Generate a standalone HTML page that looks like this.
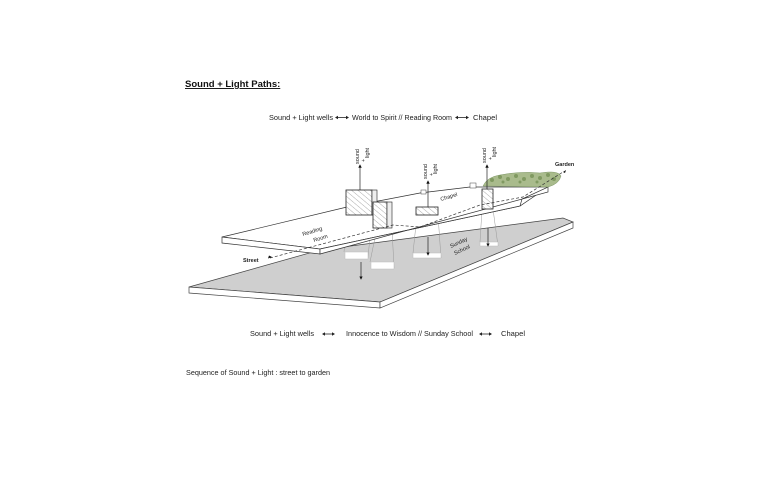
<!DOCTYPE html>
<html><head><meta charset="utf-8"><style>
html,body{margin:0;padding:0;background:#fff;width:780px;height:487px;overflow:hidden}
svg{display:block;font-family:"Liberation Sans",sans-serif}
</style></head><body>
<svg width="780" height="487" viewBox="0 0 780 487" xmlns="http://www.w3.org/2000/svg">
<defs>
<pattern id="h" width="4" height="4" patternUnits="userSpaceOnUse" patternTransform="rotate(-50)">
<rect width="4" height="4" fill="#fff"/><line x1="0" y1="0" x2="0" y2="4" stroke="#888" stroke-width="0.7"/></pattern>
<marker id="a" markerWidth="5" markerHeight="5" refX="2.5" refY="2.5" orient="auto"><path d="M0,0 L5,2.5 L0,5z" fill="#111"/></marker>
</defs>
<text x="185" y="87" font-size="9.5" font-weight="bold" text-decoration="underline" fill="#111">Sound + Light Paths:</text>
<g font-size="7.3" fill="#222">
<text x="269" y="120" textLength="64" lengthAdjust="spacingAndGlyphs">Sound + Light wells</text>
<text x="352" y="120" textLength="100" lengthAdjust="spacingAndGlyphs">World to Spirit // Reading Room</text>
<text x="473" y="120" textLength="24" lengthAdjust="spacingAndGlyphs">Chapel</text>
</g>
<g stroke="#222" stroke-width="0.8"><line x1="336" y1="117.5" x2="348" y2="117.5"/><line x1="456" y1="117.5" x2="468" y2="117.5"/></g>
<g fill="#222"><path d="M335,117.5 l3,-1.8 v3.6z M349,117.5 l-3,-1.8 v3.6z M455,117.5 l3,-1.8 v3.6z M469,117.5 l-3,-1.8 v3.6z"/></g>

<!-- lower slab -->
<polygon points="189,287 320,250 563,218 573,222 380,302" fill="#cfcfcf" stroke="#444" stroke-width="0.7"/>
<polygon points="189,287 380,302 380,308 189,293" fill="#fff" stroke="#444" stroke-width="0.7"/>
<polygon points="380,302 573,222 573,228 380,308" fill="#fff" stroke="#444" stroke-width="0.7"/>

<!-- light well projections -->
<g stroke="#999" stroke-width="0.5" fill="none">
<path d="M347,215 L344,252 M372,215 L368,258 M377,228 L370,262 M392,228 L394,268 M417,215 L413,253 M438,215 L441,258 M482,209 L480,242 M493,209 L498,246"/>
</g>
<g fill="#fff" stroke="#bbb" stroke-width="0.5">
<polygon points="345,252 368,252 368,259 345,259"/><polygon points="371,262 394,262 394,269 371,269"/>
<polygon points="413,253 441,253 441,258 413,258"/><polygon points="480,242 498,242 498,246 480,246"/>
</g>

<!-- upper slab -->
<polygon points="222,237 347,207 420,193 470,187 548,187 520,206 320,249" fill="#fff" stroke="#333" stroke-width="0.7"/>
<polygon points="222,237 320,249 320,254 222,243" fill="#fff" stroke="#333" stroke-width="0.7"/>
<polygon points="320,249 520,206 522,199 548,187 548,192 320,254" fill="#fff" stroke="#333" stroke-width="0.7"/>
<!-- garden -->
<path d="M483,186 Q487,177 500,175 Q520,171 540,173 Q558,170 561,176 Q559,184 548,187 Z" fill="#a9bb8c" stroke="#7f9868" stroke-width="0.5"/>
<g fill="#6f8c50" opacity="0.7">
<circle cx="492" cy="180" r="2"/><circle cx="500" cy="177" r="2"/><circle cx="508" cy="179" r="2"/><circle cx="516" cy="176" r="2"/><circle cx="524" cy="179" r="2"/><circle cx="532" cy="176" r="2"/><circle cx="540" cy="178" r="2"/><circle cx="548" cy="175" r="2"/><circle cx="554" cy="179" r="2"/><circle cx="503" cy="182" r="1.5"/><circle cx="520" cy="182" r="1.5"/><circle cx="537" cy="182" r="1.5"/>
</g>

<!-- boxes -->
<rect x="346" y="190" width="26" height="25" fill="url(#h)" stroke="#222" stroke-width="0.8"/>
<rect x="372" y="190" width="5" height="25" fill="#eee" stroke="#222" stroke-width="0.6"/>
<rect x="373" y="202" width="14" height="26" fill="url(#h)" stroke="#222" stroke-width="0.8"/>
<rect x="387" y="202" width="5" height="26" fill="#eee" stroke="#222" stroke-width="0.6"/>
<rect x="416" y="207" width="22" height="8" fill="url(#h)" stroke="#222" stroke-width="0.8"/>
<rect x="482" y="189" width="11" height="20" fill="url(#h)" stroke="#222" stroke-width="0.8"/>
<rect x="470" y="183" width="6" height="5" fill="#fff" stroke="#444" stroke-width="0.5"/>
<rect x="421" y="190" width="5" height="4" fill="#fff" stroke="#444" stroke-width="0.5"/>

<!-- dashed path -->
<polyline points="270,258 337,240 393,225 420,227 480,205 523,197 563,172" fill="none" stroke="#333" stroke-width="0.7" stroke-dasharray="3,2"/>
<path d="M272,257 l-4,1.5 l1,-3z M563,172 l3,-2 l-1,3z" fill="#111"/>

<!-- arrows -->
<g stroke="#222" stroke-width="0.7" marker-end="url(#a)">
<line x1="360" y1="190" x2="360" y2="166"/><line x1="428" y1="207" x2="428" y2="182"/><line x1="487" y1="189" x2="487" y2="166"/>
<line x1="361" y1="262" x2="361" y2="278"/><line x1="428" y1="237" x2="428" y2="254"/><line x1="488" y1="228" x2="488" y2="245"/>
</g>
<g font-size="5.5" fill="#222">
<text transform="translate(359,164) rotate(-90)">sound</text><text transform="translate(365,162) rotate(-90)">+</text><text transform="translate(369,158) rotate(-90)">light</text>
<text transform="translate(427,179) rotate(-90)">sound</text><text transform="translate(433,176) rotate(-90)">+</text><text transform="translate(437,174) rotate(-90)">light</text>
<text transform="translate(486,163) rotate(-90)">sound</text><text transform="translate(492,160) rotate(-90)">+</text><text transform="translate(496,157) rotate(-90)">light</text>
<text x="555" y="166" font-weight="bold">Garden</text>
<text x="243" y="262" font-weight="bold">Street</text>
<text transform="translate(303,236) rotate(-17)">Reading</text><text transform="translate(314,242) rotate(-17)">Room</text>
<text transform="translate(441,201) rotate(-17)">Chapel</text>
<text transform="translate(451,248) rotate(-25)">Sunday</text><text transform="translate(455,255) rotate(-25)">School</text>
</g>

<g font-size="7.3" fill="#222">
<text x="250" y="336" textLength="64" lengthAdjust="spacingAndGlyphs">Sound + Light wells</text>
<text x="346" y="336" textLength="127" lengthAdjust="spacingAndGlyphs">Innocence to Wisdom // Sunday School</text>
<text x="501" y="336" textLength="24" lengthAdjust="spacingAndGlyphs">Chapel</text>
<text x="186" y="375" textLength="144" lengthAdjust="spacingAndGlyphs">Sequence of Sound + Light : street to garden</text>
</g>
<g stroke="#222" stroke-width="0.8"><line x1="323" y1="334" x2="334" y2="334"/><line x1="480" y1="334" x2="491" y2="334"/></g>
<path d="M322,334 l3,-1.8 v3.6z M335,334 l-3,-1.8 v3.6z M479,334 l3,-1.8 v3.6z M492,334 l-3,-1.8 v3.6z" fill="#222"/>
</svg>
</body></html>
